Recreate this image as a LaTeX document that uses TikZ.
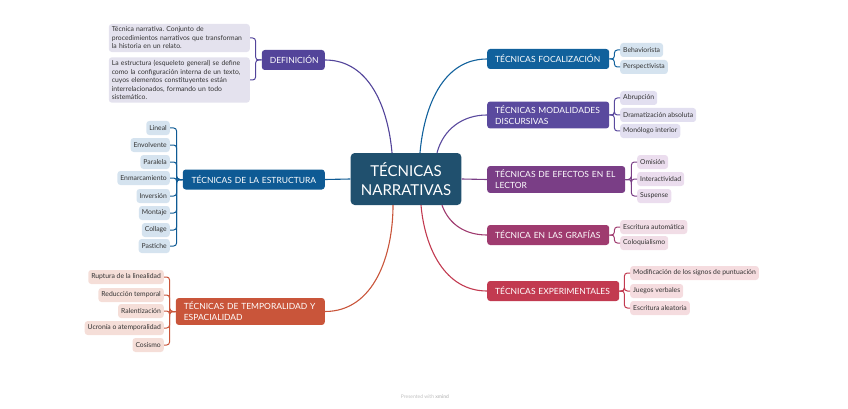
\documentclass[tikz,border=0pt]{standalone}
\usepackage{fontspec}
\setmainfont{Lato}
\usepackage{tikz}
\usetikzlibrary{positioning, calc}
\frenchspacing
\definecolor{centro}{RGB}{32,80,110}
\definecolor{moradodef}{RGB}{83,68,154}
\definecolor{lilaclaro}{RGB}{228,226,238}
\definecolor{azulest}{RGB}{14,90,148}
\definecolor{azulclaro}{RGB}{213,227,239}
\definecolor{naranja}{RGB}{201,85,58}
\definecolor{naranjaclaro}{RGB}{245,222,216}
\definecolor{azulfoc}{RGB}{17,97,156}
\definecolor{moradomod}{RGB}{90,74,158}
\definecolor{moradomodclaro}{RGB}{226,223,240}
\definecolor{violeta}{RGB}{122,62,134}
\definecolor{violetaclaro}{RGB}{235,221,238}
\definecolor{magenta}{RGB}{159,59,111}
\definecolor{magentaclaro}{RGB}{241,221,230}
\definecolor{rojo}{RGB}{194,58,80}
\definecolor{rojoclaro}{RGB}{245,220,223}
\definecolor{textohoja}{RGB}{51,51,51}

\begin{document}
\begin{tikzpicture}[x=1pt, y=1pt,
      rama/.style={rounded corners=3pt, text=white, inner xsep=8pt, inner ysep=4pt,
                   minimum height=20pt, font=\fontsize{8.5}{11}\selectfont},
      hoja/.style={rounded corners=3pt, text=textohoja, inner xsep=3pt, inner ysep=2pt,
                   minimum height=14pt, font=\fontsize{6.8}{8}\selectfont},
      nota/.style={fill=lilaclaro, rounded corners=3pt, text=textohoja, inner sep=3pt,
                   align=left, anchor=east, font=\fontsize{6.8}{8.5}\selectfont},
      enlace/.style={line width=1.1pt},
      llave/.style={line width=1pt, rounded corners=3pt}]
    \useasboundingbox (0,0) rectangle (848,-409);
    % tema central
    \node[fill=centro, rounded corners=4pt, text=white, text width=104pt, align=center,
          minimum height=52pt, font=\fontsize{15}{19}\selectfont]
          (c) at (406,-179) {TÉCNICAS\\NARRATIVAS};

    % izquierda
    \node[rama, fill=moradodef, anchor=east, text width=47pt, align=center]
          (def) at (325,-60) {DEFINICIÓN};
    \node[rama, fill=azulest, anchor=east, text width=126pt, align=center]
          (est) at (325,-179.5) {TÉCNICAS DE LA ESTRUCTURA};
    \node[rama, fill=naranja, anchor=east, text width=133pt, align=left]
          (tem) at (325,-311.5) {TÉCNICAS DE TEMPORALIDAD Y\\ESPACIALIDAD};

    % derecha
    \node[rama, fill=azulfoc, anchor=west, text width=106pt, align=left]
          (foc) at (487,-59) {TÉCNICAS FOCALIZACIÓN};
    \node[rama, fill=moradomod, anchor=west, text width=106pt, align=left]
          (mod) at (487,-115) {TÉCNICAS MODALIDADES\\DISCURSIVAS};
    \node[rama, fill=violeta, anchor=west, text width=122pt, align=left]
          (efe) at (487,-179.5) {TÉCNICAS DE EFECTOS EN EL\\LECTOR};
    \node[rama, fill=magenta, anchor=west, text width=106pt, align=left]
          (gra) at (487,-235) {TÉCNICA EN LAS GRAFÍAS};
    \node[rama, fill=rojo, anchor=west, text width=116pt, align=left]
          (exp) at (487,-291) {TÉCNICAS EXPERIMENTALES};

    % conexiones al tema central
    \draw[enlace, moradodef] (def.east) to[out=0, in=95] ([xshift=-14pt]c.north);
    \draw[enlace, azulest] (est.east) -- (c.west);
    \draw[enlace, naranja] (tem.east) to[out=0, in=-90] ([xshift=-13pt]c.south);
    \draw[enlace, azulfoc] (foc.west) to[out=180, in=85] ([xshift=14pt]c.north);
    \draw[enlace, moradomod] (mod.west) to[out=180, in=75] ([xshift=31pt]c.north);
    \draw[enlace, violeta] (efe.west) -- (c.east);
    \draw[enlace, magenta] (gra.west) to[out=180, in=-70] ([xshift=36pt]c.south);
    \draw[enlace, rojo] (exp.west) to[out=180, in=-85] ([xshift=15pt]c.south);

    % definiciones
    \node[nota, minimum width=141pt, text width=135pt] (d1) at (250,-38)
          {Técnica narrativa. Conjunto de\\procedimientos narrativos que transforman\\la historia en un relato.};
    \node[nota, minimum width=141pt, text width=135pt] (d2) at (250,-80)
          {La estructura (esqueleto general) se define\\como la configuración interna de un texto,\\cuyos elementos constituyentes están\\interrelacionados, formando un todo\\sistemático.};
    \draw[llave, moradodef] (def.west) -- ++(-6,0) |- (d1.east);
    \draw[llave, moradodef] (def.west) -- ++(-6,0) |- (d2.east);

    % hojas de la estructura
    \foreach \t/\y [count=\i] in {Lineal/128, Envolvente/145, Paralela/162,
        Enmarcamiento/178, Inversión/196, Montaje/213, Collage/230, Pastiche/246} {
      \node[hoja, fill=azulclaro, anchor=east] (e\i) at (170,-\y) {\t};
      \draw[llave, azulest] (est.west) -- ++(-6,0) |- (e\i.east);
    }

    % hojas de temporalidad
    \foreach \t/\y [count=\i] in {Ruptura de la linealidad/277, Reducción temporal/295,
        Ralentización/311, Ucronía o atemporalidad/328, Cosismo/345} {
      \node[hoja, fill=naranjaclaro, anchor=east] (t\i) at (164,-\y) {\t};
      \draw[llave, naranja] (tem.west) -- ++(-6,0) |- (t\i.east);
    }

    % hojas de focalizacion
    \foreach \t/\y [count=\i] in {Behaviorista/50, Perspectivista/67} {
      \node[hoja, fill=azulclaro, anchor=west] (f\i) at (620,-\y) {\t};
      \draw[llave, azulfoc] (foc.east) -- ++(5,0) |- (f\i.west);
    }

    % hojas de modalidades
    \foreach \t/\y [count=\i] in {Abrupción/98, Dramatización absoluta/115,
        Monólogo interior/131} {
      \node[hoja, fill=moradomodclaro, anchor=west] (m\i) at (620,-\y) {\t};
      \draw[llave, moradomod] (mod.east) -- ++(5,0) |- (m\i.west);
    }

    % hojas de efectos
    \foreach \t/\y [count=\i] in {Omisión/162, Interactividad/179, Suspense/196} {
      \node[hoja, fill=violetaclaro, anchor=west] (o\i) at (637,-\y) {\t};
      \draw[llave, violeta] (efe.east) -- ++(6,0) |- (o\i.west);
    }

    % hojas de grafias
    \foreach \t/\y [count=\i] in {Escritura automática/227, Coloquialismo/243} {
      \node[hoja, fill=magentaclaro, anchor=west] (g\i) at (620,-\y) {\t};
      \draw[llave, magenta] (gra.east) -- ++(5,0) |- (g\i.west);
    }

    % hojas experimentales
    \foreach \t/\y [count=\i] in {Modificación de los signos de puntuación/273,
        Juegos verbales/291, Escritura aleatoria/308} {
      \node[hoja, fill=rojoclaro, anchor=west] (x\i) at (630,-\y) {\t};
      \draw[llave, rojo] (exp.east) -- ++(5,0) |- (x\i.west);
    }

    \node[text=black!25, font=\fontsize{5}{6}\selectfont] (marca) at (425,-397)
          {Presented with \textbf{xmind}};
  \end{tikzpicture}
\end{document}
